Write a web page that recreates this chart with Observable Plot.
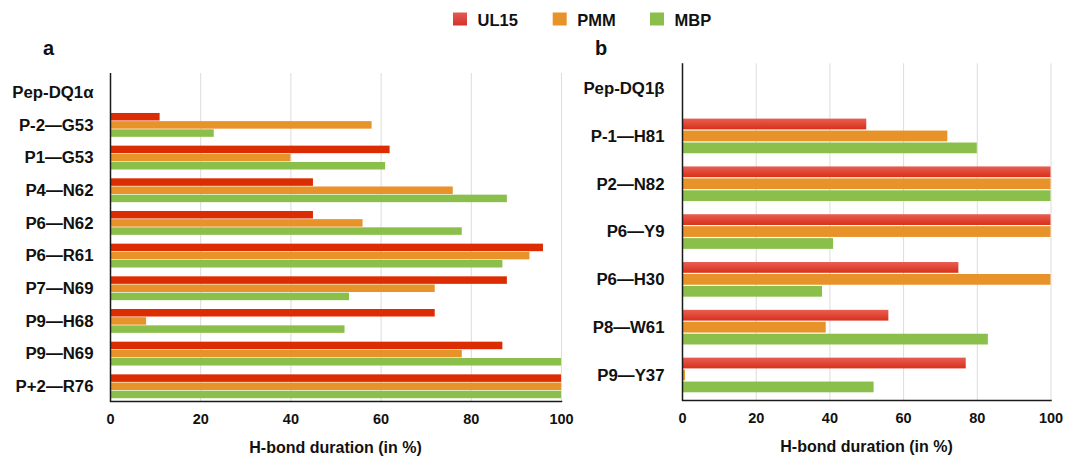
<!DOCTYPE html>
<html>
<head>
<meta charset="utf-8">
<script src="https://cdn.jsdelivr.net/npm/d3@7"></script>
<script src="https://cdn.jsdelivr.net/npm/@observablehq/plot@0.6"></script>
<style>
  body { margin: 0; background: #fff; }
  #wrap { position: relative; width: 1065px; height: 456px; overflow: hidden; background: #fff; }
  #wrap > svg { position: absolute; top: 0; }
  #overlay { left: 0; pointer-events: none; }
  #overlay text { font-family: "Liberation Sans", Arial, sans-serif; font-weight: bold; fill: #111; }
</style>
</head>
<body>
<div id="wrap"></div>
<script>
// ---- data ----
const seriesNames = ["UL15", "PMM", "MBP"];
const xTicks = [0, 20, 40, 60, 80, 100];
const axisTitle = "H-bond duration (in %)";

const catsA = ["Pep-DQ1α", "P-2—G53", "P1—G53", "P4—N62", "P6—N62", "P6—R61", "P7—N69", "P9—H68", "P9—N69", "P+2—R76"];
const ul15A = [null, 11, 62, 45, 45, 96, 88, 72, 87, 100];
const pmmA  = [null, 58, 40, 76, 56, 93, 72, 8, 78, 100];
const mbpA  = [null, 23, 61, 88, 78, 87, 53, 52, 100, 100];

const catsB = ["Pep-DQ1β", "P-1—H81", "P2—N82", "P6—Y9", "P6—H30", "P8—W61", "P9—Y37"];
const ul15B = [null, 50, 100, 100, 75, 56, 77];
const pmmB  = [null, 72, 100, 100, 100, 39, 0.8];
const mbpB  = [null, 80, 100, 41, 38, 83, 52];

// ---- styles ----
const colorsA = ["#dc2c02", "#e8922a", "#8bbf4b"];
const colorsB = ["url(#gradRedB)", "#e8922a", "#8bbf4b"];
const FONT = "'Liberation Sans', Arial, Helvetica, sans-serif";

function slotDomain(cats) {
  const d = [];
  cats.forEach((c, i) => {
    seriesNames.forEach(s => d.push(c + "|" + s));
    if (i < cats.length - 1) d.push(c + "|gap");
  });
  return d;
}
function rows(cats, vals) {
  const out = [];
  cats.forEach((c, i) => seriesNames.forEach((s, j) => {
    const v = vals[j][i];
    if (v != null) out.push({cat: c, series: s, slot: c + "|" + s, value: v});
  }));
  return out;
}

function panel(o) {
  return Plot.plot({
    width: o.width, height: 456,
    marginLeft: o.marginLeft, marginRight: o.marginRight,
    marginTop: o.marginTop, marginBottom: o.marginBottom,
    style: {fontFamily: FONT, fontWeight: "bold", fontSize: "16px", color: "#111", background: "transparent"},
    x: {domain: [0, 100]},
    y: {domain: slotDomain(o.cats), paddingInner: o.pad, paddingOuter: 0, round: false, insetTop: o.insetTop, insetBottom: o.insetBottom},
    color: {domain: seriesNames, range: o.colors},
    marks: [
      Plot.gridX(xTicks, {stroke: "#dcdcdc", strokeOpacity: 1, strokeWidth: 1}),
      Plot.barX(rows(o.cats, o.vals), {x: "value", y: "slot", fill: "series"}),
      Plot.ruleX([0], {stroke: "#1a1a1a", strokeWidth: 1.5}),
      Plot.frame({anchor: "bottom", stroke: "#1a1a1a", strokeWidth: 1.5}),
      Plot.axisX(xTicks, {tickSize: 0, tickPadding: 12, fontSize: 14.5, label: null}),
      Plot.axisY(o.cats.map(c => c + "|PMM"), {tickSize: 0, tickPadding: o.tickPad, tickFormat: d => d.split("|")[0], label: null, fontSize: 16.8})
    ]
  });
}

const wrap = document.getElementById("wrap");

const svgA = panel({cats: catsA, vals: [ul15A, pmmA, mbpA], colors: colorsA,
  width: 580, marginLeft: 110, marginRight: 19, marginTop: 73, marginBottom: 55,
  insetTop: 7.3, insetBottom: 2.8, pad: 0.08, tickPad: 17});
svgA.style.left = "0px";
wrap.appendChild(svgA);

const svgB = panel({cats: catsB, vals: [ul15B, pmmB, mbpB], colors: colorsB,
  width: 485, marginLeft: 102, marginRight: 14.5, marginTop: 63.3, marginBottom: 56,
  insetTop: 7.5, insetBottom: 7.7, pad: 0.1, tickPad: 18});
svgB.style.left = "580px";
const defs = d3.select(svgB).insert("defs", ":first-child");
const g = defs.append("linearGradient").attr("id", "gradRedB").attr("x1", 0).attr("y1", 0).attr("x2", 0).attr("y2", 1);
g.append("stop").attr("offset", "0%").attr("stop-color", "#e85e52");
g.append("stop").attr("offset", "100%").attr("stop-color", "#d8301a");
wrap.appendChild(svgB);

// ---- overlay: legend, panel letters, axis titles ----
const ov = d3.select(wrap).append("svg").attr("id", "overlay").attr("width", 1065).attr("height", 456);
const lg = ov.append("defs").append("linearGradient").attr("id", "gradRedL").attr("x1", 0).attr("y1", 0).attr("x2", 0).attr("y2", 1);
lg.append("stop").attr("offset", "0%").attr("stop-color", "#e35a55");
lg.append("stop").attr("offset", "100%").attr("stop-color", "#d3322a");
const legendX = [453, 552.7, 650];
const legendFill = ["url(#gradRedL)", "#e8922a", "#8bbf4b"];
seriesNames.forEach((s, i) => {
  ov.append("rect").attr("x", legendX[i]).attr("y", 12.5).attr("width", 14).attr("height", 13).attr("fill", legendFill[i]);
  ov.append("text").attr("x", legendX[i] + 24.5).attr("y", 25.7).attr("font-size", 16.5).text(s);
});
ov.append("text").attr("x", 43).attr("y", 54.5).attr("font-size", 20).text("a");
ov.append("text").attr("x", 595).attr("y", 55).attr("font-size", 20).text("b");
ov.append("text").attr("x", 335.5).attr("y", 452.5).attr("font-size", 16).attr("text-anchor", "middle").text(axisTitle);
ov.append("text").attr("x", 866.5).attr("y", 452).attr("font-size", 16).attr("text-anchor", "middle").text(axisTitle);
</script>
</body>
</html>
